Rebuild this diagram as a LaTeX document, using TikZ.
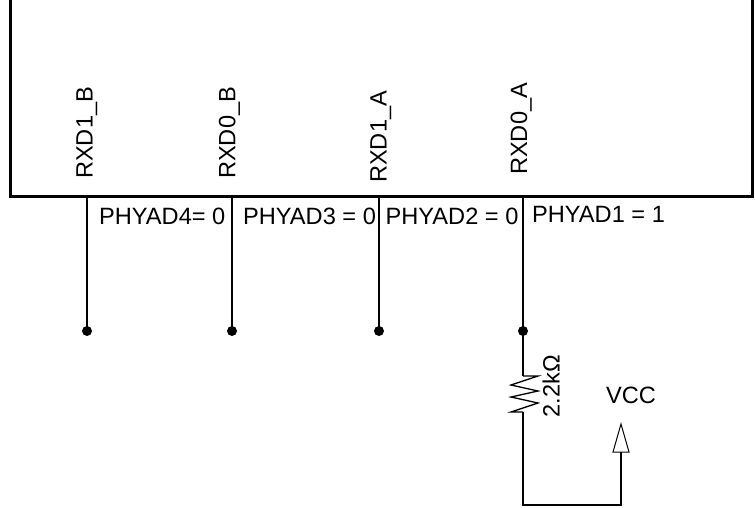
\documentclass[tikz,border=0pt]{standalone}
\usepackage{fontspec}
\setmainfont{Liberation Sans}
\tikzset{
 wire/.style={line width=1.8pt,line join=miter},
 zig/.style={line width=1.3pt,line join=miter},
 lbl/.style={inner sep=0pt,font=\fontsize{23.6}{26}\selectfont,anchor=base west},
 pin/.style={lbl,rotate=90},
 dotn/.style={circle,fill=black,inner sep=0pt,minimum size=10pt}
}
\begin{document}
\begin{tikzpicture}[x=1pt,y=-1pt]
\useasboundingbox (0,0) rectangle (755,508);
\coordinate (tl) at (10,0);\coordinate (bl) at (10,196);\coordinate (br) at (752,196);\coordinate (tr) at (752,0);
\draw[line width=3pt] (tl)--(bl)--(br)--(tr);
\foreach \n/\x/\bx/\t/\yy in {a/87/92.7/RXD1\_B/179,b/232/235.3/RXD0\_B/179,c/379/386.7/RXD1\_A/183,d/523/527/RXD0\_A/175}{
 \node[pin] (p\n) at (\bx,\yy) {\t};
 \coordinate (t\n) at (\x,196);
 \node[dotn] (d\n) at (\x,331) {};
 \draw[wire] (t\n)--(d\n.center);
}
\node[lbl] (l1) at (99,224.7) {PHYAD4= 0};
\node[lbl] (l2) at (243,224.2) {PHYAD3 = 0};
\node[lbl] (l3) at (385.5,224.2) {PHYAD2 = 0};
\node[lbl] (l4) at (532,222.7) {PHYAD1 = 1};
\coordinate (r1) at (523,376);\coordinate (r2) at (523,412);
\coordinate (zr) at (538,376);\coordinate (zl) at (511,412);
\coordinate (v) at (621,452);
\draw[wire] (dd.center)--(r1);
\draw[zig] (r1) -- (zr) -- (511,385) -- (538,391) -- (511,397) -- (538,403) -- (zl) -- (r2);
\draw[wire] (r2) -- (523,505) -- (621,505) -- (v);
\node[pin] (rv) at (559.5,417.5) {2.2kΩ};
\node[lbl] (vcc) at (606,403.5) {VCC};
\draw[line width=1pt] (621,424)--(613,452)--(629,452)--cycle;
\end{tikzpicture}
\end{document}
